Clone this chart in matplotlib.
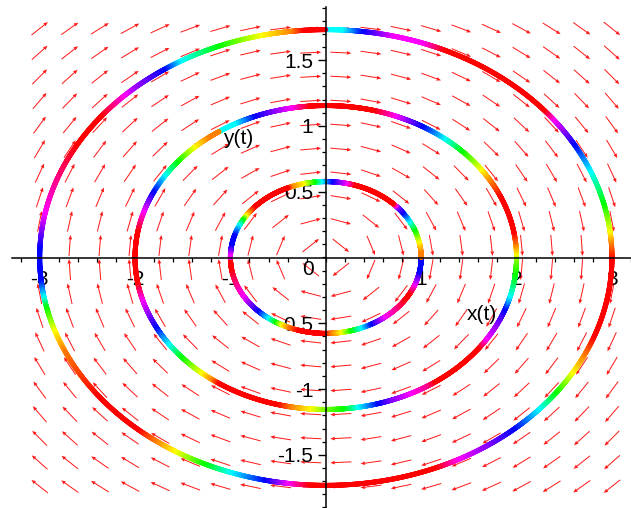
import numpy as np
import matplotlib
matplotlib.use("Agg")
import matplotlib.pyplot as plt
from matplotlib.collections import LineCollection
from matplotlib.colors import hsv_to_rgb

plt.rcParams["font.family"] = ["Liberation Sans", "DejaVu Sans"]
plt.rcParams["axes.unicode_minus"] = False

# system: x' = y, y' = -x/3  (direction field)
FIELD_A = 1.0
FIELD_B = -1.0 / 3.0

# solution curves: semi-axes
semi_x = [1.0, 2.0, 3.0]
semi_y = [0.577, 1.155, 1.732]

# colour along each curve: (polar angle in degrees, hue in degrees)
hue_inner = [(-180, 300), (-176, 360), (-170, 360), (-148, 300), (-133.6, 240),
             (-125.9, 180), (-120.9, 120), (-116.7, 60), (-112, 30), (-105.8, 0),
             (-89.4, 0), (-85.6, 30), (-79.6, 60), (-73.4, 120), (-67, 180),
             (-60.3, 240), (-50.6, 300), (-40.4, 330), (-31.6, 360), (-27, 360),
             (-19.8, 300), (-9.5, 240), (-0.1, 240), (0.1, 390), (5.7, 390),
             (13.3, 420), (22.6, 480), (29.6, 540), (37, 600), (42, 630),
             (45.6, 720), (73.7, 720), (78.5, 660), (87.6, 600), (93.6, 540),
             (97.8, 480), (104.5, 420), (112, 390), (114, 360), (139.5, 360),
             (144, 390), (147.5, 420), (151, 480), (156, 540), (164, 600),
             (172, 600), (180, 660)]
hue_middle = [(-180, 0), (-170, 0), (-163, -60), (-157, -90), (-152, -120),
              (-144.6, -180), (-138.4, -240), (-130, -300), (-126, -330),
              (-123.7, -360), (-104, -360), (-100, -330), (-94, -300), (-90, -270),
              (-84, -240), (-79.7, -180), (-73.6, -120), (-69.5, -90), (-63, -60),
              (-57, -30), (-54.6, 0), (-36, 0), (-32, -60), (-25, -90),
              (-19.4, -120), (-14.3, -180), (-6, -240), (0, -270), (1.7, -300),
              (5.5, -330), (10, -360), (24.5, -360), (31, -330), (36, -300),
              (45, -240), (52, -180), (60, -120), (65, -90), (69, -60), (76, 0),
              (95.5, 0), (101, -60), (112.5, -120), (119, -180), (123.9, -180),
              (124.1, -330), (128.5, -330), (134, -300), (141.6, -240),
              (148, -180), (155, -120), (163, -60), (171, 0), (180, 0)]
hue_outer = [(-180, 240), (-174, 240), (-169.7, 180), (-167, 120), (-160.8, 60),
             (-155.7, 30), (-142, 0), (-130.5, 0), (-126, 30), (-121.4, 60),
             (-114.6, 120), (-109, 180), (-101.9, 240), (-97.2, 300), (-93, 360),
             (-67, 360), (-62, 300), (-55, 270), (-48.4, 240), (-41.3, 180),
             (-36, 120), (-30, 60), (-25, 30), (-20, 0), (0, 0), (4, 30), (7, 60),
             (14, 120), (22.6, 180), (30, 240), (37.5, 300), (40.5, 360),
             (65.8, 360), (70.7, 300), (76.5, 300), (79.7, 270), (83, 240),
             (87, 180), (89.9, 180), (90.1, 360), (95, 360), (97.2, 390),
             (103.3, 420), (112.4, 480), (120.7, 540), (124.7, 600), (132.5, 640),
             (142, 720), (150.5, 720), (169.4, 660), (178, 600), (180, 600)]
curve_hues = [hue_inner, hue_middle, hue_outer]

# arrow grid
grid_x = np.linspace(-3.0, 3.0, 20)
grid_y = np.linspace(-1.74, 1.74, 20)

x_ticks = [-3, -2, -1, 1, 2, 3]
y_ticks = [-1.5, -1, -0.5, 0.5, 1, 1.5]
y_tick_labels = ["-1.5", "-1", "-0.5", "0.5", "1", "1.5"]

W, H = 631, 508
fig = plt.figure(figsize=(W / 100, H / 100), dpi=100)
ax = fig.add_axes([12 / W, 0, 619 / W, 501 / H])
ax.set_xlim(-3.29, 3.19)
ax.set_ylim(-1.904, 1.904)

# pixel scale so that arrows all have the same on-screen length
sx = 619 / (3.19 + 3.29)
sy = 501 / (2 * 1.904)

GX, GY = np.meshgrid(grid_x, grid_y)
U = FIELD_A * GY
V = FIELD_B * GX
pu, pv = U * sx, V * sy
n = np.hypot(pu, pv)
L = 21.0
ax.quiver(GX, GY, L * pu / n / sx, L * pv / n / sy, color="#ff1a1a",
          angles="xy", scale_units="xy", scale=1, pivot="middle",
          units="dots", width=1.0, headwidth=3.8, headlength=4.5,
          headaxislength=4.2, zorder=1)

# coloured solution curves
th = np.linspace(-180, 180, 3601)
for a, b, keys in zip(semi_x, semi_y, curve_hues):
    kt = [k[0] for k in keys]
    kh = [k[1] for k in keys]
    hue = (np.interp(th, kt, kh) % 360) / 360.0
    rgb = hsv_to_rgb(np.stack([hue, np.ones_like(hue), np.ones_like(hue)], axis=1))
    r = np.radians(th)
    px, py = a * np.cos(r), b * np.sin(r)
    pts = np.column_stack([px, py]).reshape(-1, 1, 2)
    segs = np.concatenate([pts[:-1], pts[1:]], axis=1)
    lc = LineCollection(segs, colors=rgb[:-1], linewidths=3.6,
                        capstyle="round", zorder=2)
    ax.add_collection(lc)

# axes through the origin
for s in ("top", "right"):
    ax.spines[s].set_visible(False)
ax.spines["left"].set_position("zero")
ax.spines["bottom"].set_position("zero")
ax.spines["left"].set_linewidth(1.1)
ax.spines["bottom"].set_linewidth(1.1)
ax.patch.set_alpha(0)

ax.set_xticks(x_ticks)
ax.set_xticklabels([str(t) for t in x_ticks])
ax.set_yticks(y_ticks)
ax.set_yticklabels(y_tick_labels)
ax.set_xticks(np.arange(-3.2, 3.21, 0.2), minor=True)
ax.set_yticks(np.arange(-1.9, 1.91, 0.1), minor=True)
ax.tick_params(which="major", direction="out", length=6, width=1.0,
               labelsize=15, pad=3)
ax.tick_params(which="minor", direction="out", length=3, width=0.9)

ax.text(-0.19, -0.095, "0", ha="center", va="center", fontsize=15)
ax.text(-0.924, 0.908, "y(t)", ha="center", va="center", fontsize=15, zorder=4)
ax.text(1.64, -0.437, "x(t)", ha="center", va="center", fontsize=15, zorder=4)

fig.savefig("out.png", dpi=100)
